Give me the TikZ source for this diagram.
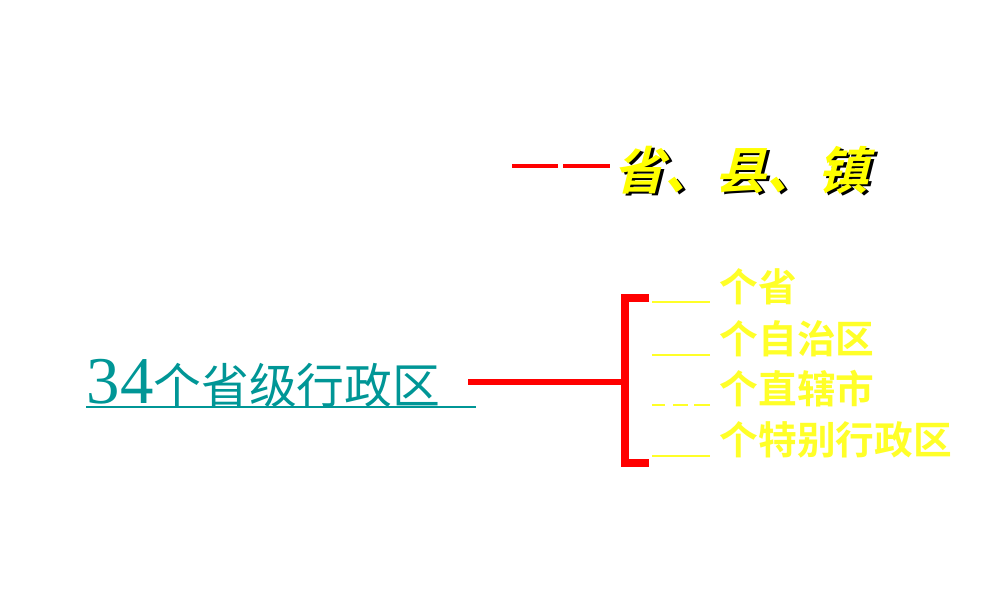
\documentclass[tikz,border=0pt]{standalone}
\usepackage{fontspec}
\newfontfamily\cjk{Noto Sans CJK SC}
\newfontfamily\cjkb{Noto Sans CJK SC Bold}
\setmainfont{Liberation Serif}
\definecolor{ttl}{RGB}{255,255,0}
\definecolor{yl}{RGB}{255,255,40}
\definecolor{tl}{RGB}{0,150,150}
\definecolor{rd}{RGB}{255,0,0}
\tikzset{
  item/.style={anchor=west,inner sep=0pt,text=yl,font=\cjkb\fontsize{11}{11}\selectfont},
  blank/.style={draw=yl,line width=0.8pt},
  redl/.style={draw=rd,line width=1.5pt},
  ttlt/.style={anchor=west,inner sep=0pt,font=\cjkb\fontsize{14.5}{14.5}\selectfont,xslant=0.25}
}
\begin{document}
\begin{tikzpicture}[x=0.01cm,y=-0.01cm]
\useasboundingbox (0,0) rectangle (1000,600);
% title
\draw[rd,line width=1.2pt] (512,166) -- (558,166) (563,166) -- (610,166);
\node[ttlt,text=black] (tsh) at (620.5,172.5) {省、县、镇};
\node[ttlt,text=ttl] (t) at (618,170) {省、县、镇};
% left
\node[anchor=base west,inner sep=0pt,text=tl] (main) at (86,403) {\fontsize{19}{19}\selectfont 34\cjk\fontsize{13.6}{13.6}\selectfont 个省级行政区};
\draw[tl,line width=0.6pt] (86,407) -- (476,407);
% bracket
\coordinate (a) at (468,382);
\coordinate (b) at (625,382);
\coordinate (bt) at (625,298);
\coordinate (bb) at (625,463);
\coordinate (tt) at (649,298);
\coordinate (tb) at (649,463);
\draw[redl] (a) -- (b);
\draw[redl,line width=2pt] (tt) -- (bt) -- (bb) -- (tb);
% blanks
\coordinate (l1a) at (652,302); \coordinate (l1b) at (710,302);
\coordinate (l2a) at (652,355); \coordinate (l2b) at (710,355);
\coordinate (l3a) at (652,405); \coordinate (l3b) at (710,405);
\coordinate (l4a) at (652,456); \coordinate (l4b) at (710,456);
\draw[blank] (l1a) -- (l1b) (l2a) -- (l2b) (l4a) -- (l4b);
\draw[blank] (l3a) -- (665,405) (673,405) -- (688,405) (694,405) -- (l3b);
\node[item] (i1) at (719,287) {个省};
\node[item] (i2) at (719,339) {个自治区};
\node[item] (i3) at (719,389) {个直辖市};
\node[item] (i4) at (719,440) {个特别行政区};
\end{tikzpicture}
\end{document}
